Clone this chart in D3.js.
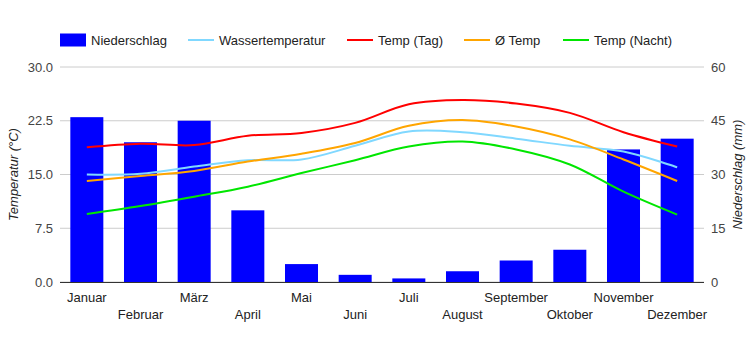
<!DOCTYPE html>
<html>
<head>
<meta charset="utf-8">
<script src="https://cdn.jsdelivr.net/npm/d3@7"></script>
<style>
  body { margin: 0; background: #fff; }
  text { font-family: Arial, "Liberation Sans", sans-serif; }
</style>
</head>
<body>
<svg id="chart" width="750" height="350"></svg>
<script>
let months = ["Januar", "Februar", "März", "April", "Mai", "Juni", "Juli", "August", "September", "Oktober", "November", "Dezember"]
let niederschlag = [46, 39, 45, 20, 5, 2, 1, 3, 6, 9, 37, 40]
let wasser = [15.0, 15.1, 16.1, 17.0, 17.1, 19.0, 21.0, 20.9, 20.0, 19.0, 18.2, 16.0]
let tempTag = [18.8, 19.3, 19.1, 20.4, 20.8, 22.2, 24.8, 25.4, 24.9, 23.6, 20.9, 18.9]
let tempAvg = [14.1, 14.8, 15.5, 16.8, 17.9, 19.4, 21.8, 22.6, 21.7, 19.9, 17.1, 14.1]
let tempNacht = [9.5, 10.6, 11.9, 13.3, 15.2, 17.0, 18.9, 19.6, 18.5, 16.4, 12.6, 9.4]
let leftTicks = [0, 7.5, 15, 22.5, 30]
let rightTicks = [0, 15, 30, 45, 60]

let width = 750,
  height = 350,
  margin = {left: 60, right: 46, top: 67, bottom: 68}

let svg = d3.select("#chart")

let x = d3.scaleBand()
  .domain(months)
  .range([margin.left, width - margin.right])
  .paddingInner(0.385)
  .paddingOuter(0.1925)
let yT = d3.scaleLinear().domain([0, 30]).range([height - margin.bottom, margin.top])
let yP = d3.scaleLinear().domain([0, 60]).range([height - margin.bottom, margin.top])

// gridlines
svg.append("g")
  .selectAll("line")
  .data(leftTicks).enter()
  .append("line")
  .attr("x1", margin.left)
  .attr("x2", width - margin.right)
  .attr("y1", d => yT(d))
  .attr("y2", d => yT(d))
  .attr("stroke", "#cccccc")
  .attr("stroke-width", 1)

// bars
svg.append("g")
  .selectAll("rect")
  .data(niederschlag).enter()
  .append("rect")
  .attr("x", (d, i) => x(months[i]))
  .attr("width", x.bandwidth())
  .attr("y", d => yP(d))
  .attr("height", d => yP(0) - yP(d))
  .attr("fill", "#0000ff")

// baseline
svg.append("line")
  .attr("x1", margin.left)
  .attr("x2", width - margin.right)
  .attr("y1", yT(0) + 0.5)
  .attr("y2", yT(0) + 0.5)
  .attr("stroke", "#333")

// lines
let series = [
  {name: "Wassertemperatur", values: wasser, color: "#80d8ff"},
  {name: "Temp (Tag)", values: tempTag, color: "#ff0000"},
  {name: "Ø Temp", values: tempAvg, color: "#ffa500"},
  {name: "Temp (Nacht)", values: tempNacht, color: "#00e600"}
]
let line = d3.line()
  .x((d, i) => x(months[i]) + x.bandwidth() / 2)
  .y(d => yT(d))
  .curve(d3.curveCatmullRom.alpha(0.5))

svg.append("g")
  .selectAll("path")
  .data(series).enter()
  .append("path")
  .attr("d", d => line(d.values))
  .attr("fill", "none")
  .attr("stroke", d => d.color)
  .attr("stroke-width", 2)

// left axis labels
svg.append("g")
  .selectAll("text")
  .data(leftTicks).enter()
  .append("text")
  .attr("x", 53)
  .attr("y", d => yT(d) + 4.5)
  .attr("text-anchor", "end")
  .attr("font-size", 13)
  .attr("fill", "#444")
  .text(d => d.toFixed(1))

// right axis labels
svg.append("g")
  .selectAll("text")
  .data(rightTicks).enter()
  .append("text")
  .attr("x", 711)
  .attr("y", d => yP(d) + 4.5)
  .attr("font-size", 13)
  .attr("fill", "#444")
  .text(d => d)

// x labels, alternating rows
svg.append("g")
  .selectAll("text")
  .data(months).enter()
  .append("text")
  .attr("x", d => x(d) + x.bandwidth() / 2)
  .attr("y", (d, i) => i % 2 == 0 ? 301.5 : 318.5)
  .attr("text-anchor", "middle")
  .attr("font-size", 13)
  .attr("fill", "#222")
  .text(d => d)

// axis titles (both read bottom to top)
svg.append("text")
  .attr("transform", "translate(18," + (yT(15)) + ") rotate(-90)")
  .attr("text-anchor", "middle")
  .attr("font-size", 13)
  .attr("font-style", "italic")
  .attr("fill", "#222")
  .text("Temperatur (°C)")
svg.append("text")
  .attr("transform", "translate(742," + (yP(30)) + ") rotate(-90)")
  .attr("text-anchor", "middle")
  .attr("font-size", 13)
  .attr("font-style", "italic")
  .attr("fill", "#222")
  .text("Niederschlag (mm)")

// legend
let legend = [
  {name: "Niederschlag", color: "#0000ff", x: 60, type: "rect"},
  {name: "Wassertemperatur", color: "#80d8ff", x: 188, type: "line"},
  {name: "Temp (Tag)", color: "#ff0000", x: 347, type: "line"},
  {name: "Ø Temp", color: "#ffa500", x: 464, type: "line"},
  {name: "Temp (Nacht)", color: "#00e600", x: 563, type: "line"}
]
let lg = svg.append("g")
  .selectAll("g")
  .data(legend).enter()
  .append("g")
  .attr("transform", d => "translate(" + d.x + ",40)")
lg.filter(d => d.type == "rect")
  .append("rect")
  .attr("x", 0).attr("y", -6.5).attr("width", 26).attr("height", 13)
  .attr("fill", d => d.color)
lg.filter(d => d.type == "line")
  .append("line")
  .attr("x1", 0).attr("x2", 26).attr("y1", 0).attr("y2", 0)
  .attr("stroke", d => d.color).attr("stroke-width", 2)
lg.append("text")
  .attr("x", 31)
  .attr("y", 4.5)
  .attr("font-size", 13)
  .attr("fill", "#222")
  .text(d => d.name)
</script>
</body>
</html>
